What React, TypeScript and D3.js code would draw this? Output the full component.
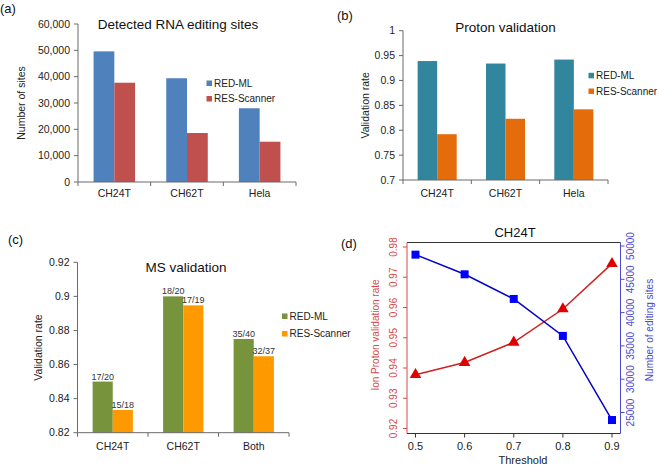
import * as d3 from "d3";

const FONT = "'Liberation Sans', Arial, sans-serif";

// panel (a)
const cellsA = ["CH24T", "CH62T", "Hela"];
const seriesA = ["RED-ML", "RES-Scanner"];
const redmlSites = [49600, 39400, 28000];
const resSites = [37700, 18600, 15300];
const ticksA = [0, 10000, 20000, 30000, 40000, 50000, 60000];

// panel (b)
const cellsB = ["CH24T", "CH62T", "Hela"];
const redmlProton = [0.939, 0.934, 0.942];
const resProton = [0.792, 0.823, 0.842];
const ticksB = [0.7, 0.75, 0.8, 0.85, 0.9, 0.95, 1];

// panel (c)
const cellsC = ["CH24T", "CH62T", "Both"];
const redmlMS = [17 / 20, 18 / 20, 35 / 40];
const resMS = [15 / 18, 17 / 19, 32 / 37];
const redmlMSLabels = ["17/20", "18/20", "35/40"];
const resMSLabels = ["15/18", "17/19", "32/37"];
const ticksC = [0.82, 0.84, 0.86, 0.88, 0.9, 0.92];

// panel (d)
const thresholds = [0.5, 0.6, 0.7, 0.8, 0.9];
const protonRate = [0.9378, 0.9418, 0.9485, 0.9595, 0.9745];
const editingSites = [48700, 45750, 42050, 36500, 23870];
const ticksDLeft = [0.92, 0.93, 0.94, 0.95, 0.96, 0.97, 0.98];
const ticksDRight = [25000, 30000, 35000, 40000, 45000, 50000];

type BarProps = {
  cats: string[];
  series: string[];
  values: number[][];
  colors: string[];
  labels?: string[][];
  domain: [number, number];
  ticks: number[];
  fmt: (v: number) => string;
  x0: number;
  x1: number;
  y0: number;
  y1: number;
  title: string;
  titleX: number;
  titleY: number;
  yTitle: string;
  yTitleX: number;
  legendX: number;
  legendY: number[];
  catY: number;
};

function BarPanel(p: BarProps) {
  const x = d3.scaleBand<string>().domain(p.cats).range([p.x0, p.x1]).padding(0);
  const inner = d3
    .scaleBand<number>()
    .domain(p.values.map((_, i) => i))
    .range([0, x.bandwidth()])
    .paddingInner(0)
    .paddingOuter(0.75);
  const y = d3.scaleLinear().domain(p.domain).range([p.y0, p.y1]);
  const axis = "#6a6a6a";
  const bounds = [...p.cats.map((c) => x(c)!), p.x1];
  return (
    <g fontFamily={FONT}>
      {p.values.map((vals, si) =>
        vals.map((v, ci) => (
          <rect
            key={`${si}-${ci}`}
            x={x(p.cats[ci])! + inner(si)!}
            y={y(v)}
            width={inner.bandwidth()}
            height={y(p.domain[0]) - y(v)}
            fill={p.colors[si]}
          />
        ))
      )}
      {p.labels &&
        p.labels.map((labs, si) =>
          labs.map((l, ci) => (
            <text
              key={`l${si}-${ci}`}
              x={x(p.cats[ci])! + inner(si)! + inner.bandwidth() / 2}
              y={y(p.values[si][ci]) - 2}
              fontSize={9}
              textAnchor="middle"
              fill="#333"
            >
              {l}
            </text>
          ))
        )}
      <line x1={p.x0} x2={p.x0} y1={p.y0} y2={p.y1} stroke={axis} />
      <line x1={p.x0} x2={p.x1} y1={p.y0} y2={p.y0} stroke={axis} />
      {p.ticks.map((t) => (
        <g key={t}>
          <line x1={p.x0 - 4} x2={p.x0} y1={y(t)} y2={y(t)} stroke={axis} />
          <text x={p.x0 - 8} y={y(t) + 3.7} fontSize={10.5} textAnchor="end" fill="#222">
            {p.fmt(t)}
          </text>
        </g>
      ))}
      {bounds.map((b, i) => (
        <line key={i} x1={b} x2={b} y1={p.y0} y2={p.y0 + 4} stroke={axis} />
      ))}
      {p.cats.map((c) => (
        <text key={c} x={x(c)! + x.bandwidth() / 2} y={p.catY} fontSize={10.5} textAnchor="middle" fill="#222">
          {c}
        </text>
      ))}
      <text x={p.titleX} y={p.titleY} fontSize={13.5} textAnchor="middle" fill="#111">
        {p.title}
      </text>
      <text
        transform={`translate(${p.yTitleX},${(p.y0 + p.y1) / 2}) rotate(-90)`}
        fontSize={10.5}
        textAnchor="middle"
        fill="#222"
      >
        {p.yTitle}
      </text>
      {p.series.map((s, i) => (
        <g key={s}>
          <rect x={p.legendX} y={p.legendY[i] - 3} width={5.5} height={5.5} fill={p.colors[i]} />
          <text x={p.legendX + 7.5} y={p.legendY[i] + 3.3} fontSize={10} fill="#222">
            {s}
          </text>
        </g>
      ))}
    </g>
  );
}

function LinePanel() {
  const left = 407;
  const right = 620.5;
  const top = 242.5;
  const bottom = 433.5;
  const x = d3.scaleLinear().domain([0.5, 0.9]).range([415.5, 612]);
  const yl = d3.scaleLinear().domain([0.92, 0.98]).range([428.5, 247]);
  const yr = d3.scaleLinear().domain([25000, 50000]).range([412.5, 246]);
  const red = "#e00000";
  const blue = "#0000cc";
  const redText = "#d44a4a";
  const blueText = "#4a4ad0";
  const redLine = d3
    .line<number>()
    .x((_, i) => x(thresholds[i]))
    .y((v) => yl(v));
  const blueLine = d3
    .line<number>()
    .x((_, i) => x(thresholds[i]))
    .y((v) => yr(v));
  const tri = d3.symbol(d3.symbolTriangle, 58)()!;
  return (
    <g fontFamily={FONT}>
      <line x1={left} x2={right} y1={top} y2={top} stroke="#333" />
      <line x1={left} x2={right} y1={bottom} y2={bottom} stroke="#333" />
      <line x1={left} x2={left} y1={top} y2={bottom} stroke={redText} />
      <line x1={right} x2={right} y1={top} y2={bottom} stroke={blueText} />
      <path d={redLine(protonRate)!} fill="none" stroke="#d02020" strokeWidth={1.5} />
      <path d={blueLine(editingSites)!} fill="none" stroke={blue} strokeWidth={1.5} />
      {protonRate.map((v, i) => (
        <path key={i} d={tri} transform={`translate(${x(thresholds[i])},${yl(v)})`} fill={red} />
      ))}
      {editingSites.map((v, i) => (
        <rect key={i} x={x(thresholds[i]) - 4} y={yr(v) - 4} width={8} height={8} fill="#0000ff" />
      ))}
      {thresholds.map((t) => (
        <g key={t}>
          <line x1={x(t)} x2={x(t)} y1={bottom} y2={bottom + 4} stroke="#333" />
          <text x={x(t)} y={450} fontSize={11} textAnchor="middle" fill="#222">
            {t.toFixed(1)}
          </text>
        </g>
      ))}
      {ticksDLeft.map((t) => (
        <g key={t}>
          <line x1={left - 4} x2={left} y1={yl(t)} y2={yl(t)} stroke={redText} />
          <text
            transform={`translate(${397},${yl(t)}) rotate(-90)`}
            fontSize={10}
            textAnchor="middle"
            fill={redText}
          >
            {t.toFixed(2)}
          </text>
        </g>
      ))}
      {ticksDRight.map((t) => (
        <g key={t}>
          <line x1={right} x2={right + 4} y1={yr(t)} y2={yr(t)} stroke={blueText} />
          <text
            transform={`translate(${634},${yr(t)}) rotate(-90)`}
            fontSize={10}
            textAnchor="middle"
            fill={blueText}
          >
            {t}
          </text>
        </g>
      ))}
      <text x={523} y={464} fontSize={11} textAnchor="middle" fill="#222">
        Threshold
      </text>
      <text x={515} y={237} fontSize={13} textAnchor="middle" fill="#111">
        CH24T
      </text>
      <text
        transform={`translate(${379},${335}) rotate(-90)`}
        fontSize={10}
        textAnchor="middle"
        fill={redText}
      >
        Ion Proton validation rate
      </text>
      <text
        transform={`translate(${653},${330}) rotate(-90)`}
        fontSize={10}
        textAnchor="middle"
        fill={blueText}
      >
        Number of editing sites
      </text>
    </g>
  );
}

export default function App() {
  return (
    <svg
      width={657}
      height={465}
      style={{ position: "absolute", left: 0, top: 0, background: "#fff" }}
    >
      <rect width={657} height={465} fill="#fff" />
      <g fontFamily={FONT} fontSize={13} fill="#111">
        <text x={0} y={13}>(a)</text>
        <text x={337} y={20}>(b)</text>
        <text x={8} y={244}>(c)</text>
        <text x={341} y={248}>(d)</text>
      </g>
      <BarPanel
        cats={cellsA}
        series={seriesA}
        values={[redmlSites, resSites]}
        colors={["#4f81bd", "#c0504d"]}
        domain={[0, 60000]}
        ticks={ticksA}
        fmt={d3.format(",")}
        x0={78}
        x1={296}
        y0={182}
        y1={24}
        title="Detected RNA editing sites"
        titleX={178}
        titleY={29}
        yTitle="Number of sites"
        yTitleX={25}
        legendX={206.5}
        legendY={[83.5, 99]}
        catY={197}
      />
      <BarPanel
        cats={cellsB}
        series={seriesA}
        values={[redmlProton, resProton]}
        colors={["#31859c", "#e46c0a"]}
        domain={[0.7, 1]}
        ticks={ticksB}
        fmt={(v) => String(+v.toFixed(2))}
        x0={403}
        x1={608}
        y0={180}
        y1={30.7}
        title="Proton validation"
        titleX={505.5}
        titleY={32}
        yTitle="Validation rate"
        yTitleX={369}
        legendX={588.5}
        legendY={[75.8, 91.5]}
        catY={197}
      />
      <BarPanel
        cats={cellsC}
        series={seriesA}
        values={[redmlMS, resMS]}
        colors={["#77933c", "#ff9900"]}
        labels={[redmlMSLabels, resMSLabels]}
        domain={[0.82, 0.92]}
        ticks={ticksC}
        fmt={(v) => String(+v.toFixed(2))}
        x0={77.5}
        x1={289}
        y0={432.7}
        y1={262.3}
        title="MS validation"
        titleX={186}
        titleY={272}
        yTitle="Validation rate"
        yTitleX={42}
        legendX={282}
        legendY={[316.5, 334]}
        catY={450}
      />
      <LinePanel />
    </svg>
  );
}
